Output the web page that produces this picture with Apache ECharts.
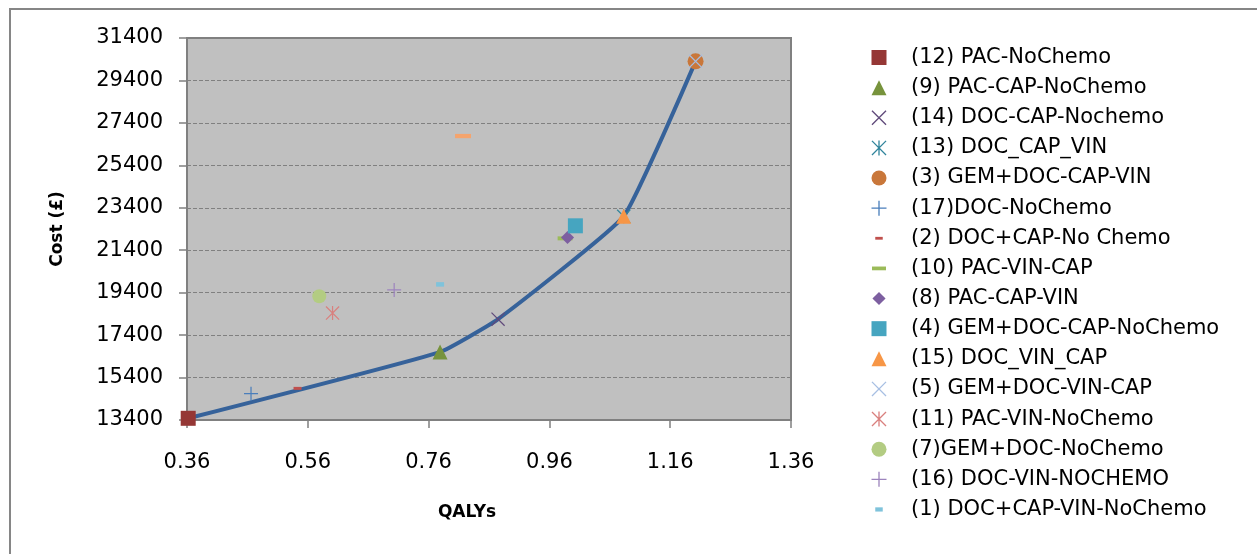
<!DOCTYPE html>
<html><head><meta charset="utf-8">
<script src="https://cdn.jsdelivr.net/npm/echarts@6/dist/echarts.min.js"></script>
<style>html,body{margin:0;padding:0;background:#fff}#c{width:1257px;height:554px}</style>
</head><body><div id="c"></div>
<script>
// ---- data ----
const strategyNames = [
  '(12) PAC-NoChemo', '(9) PAC-CAP-NoChemo', '(14) DOC-CAP-Nochemo', '(13) DOC_CAP_VIN',
  '(3) GEM+DOC-CAP-VIN', '(17)DOC-NoChemo', '(2) DOC+CAP-No Chemo', '(10) PAC-VIN-CAP',
  '(8) PAC-CAP-VIN', '(4) GEM+DOC-CAP-NoChemo', '(15) DOC_VIN_CAP', '(5) GEM+DOC-VIN-CAP',
  '(11) PAC-VIN-NoChemo', '(7)GEM+DOC-NoChemo', '(16) DOC-VIN-NOCHEMO', '(1) DOC+CAP-VIN-NoChemo',
  '(6)'
];
const qalys = [0.362, 0.779, 0.875, 1.083, 1.202, 0.466, 0.543, 0.986, 0.990, 1.003, 1.083, 1.202, 0.601, 0.579, 0.703, 0.779, 0.817];
const costs = [13480, 16600, 18150, 23000, 30300, 14640, 14890, 21960, 22000, 22550, 23000, 30300, 18440, 19230, 19530, 19790, 26780];
const legendCount = 16; // the last point (6) has no legend entry
const frontierQalys = [0.362, 0.779, 0.875, 1.083, 1.202];
const frontierCosts = [13480, 16600, 18150, 23000, 30300];
const xTicks = { min: 0.36, max: 1.36, step: 0.2 };
const yTicks = { min: 13400, max: 31400, step: 2000 };

// ---- styles ----
const P_X = 'path://M0,1L1,0L16,15L15,16ZM15,0L16,1L1,16L0,15Z';
const P_AST = 'path://M0,1L1,0L16,15L15,16ZM15,0L16,1L1,16L0,15ZM7.3,0H8.7V16H7.3Z';
const P_PLUS = 'path://M7.3,0H8.7V7.3H16V8.7H8.7V16H7.3V8.7H0V7.3H7.3Z';
const P_DASH_S = 'path://M0,0M16,16M4,6.5H12V9.5H4Z';
const P_DASH_S2 = 'path://M0,0M16,16M4,5.75H12V10.25H4Z';
const P_DASH_L = 'path://M0,0M16,16M0.5,6H15.5V10H0.5Z';
const P_DIAM = 'path://M0,0M16,16M8,1L15,8L8,15L1,8Z';
const colors = ['#953735', '#77933C', '#604A7B', '#31859C', '#C9773A', '#4A7EBB', '#C0504D', '#9BBB59',
  '#7D5FA0', '#46A5C0', '#F79646', '#A7BFE3', '#D9807E', '#B3CC82', '#9D84BD', '#7FC3DB', '#F5A46D'];
const symbols = ['rect', 'triangle', P_X, P_AST, 'circle', P_PLUS, P_DASH_S, P_DASH_L,
  P_DIAM, 'rect', 'triangle', P_X, P_AST, 'circle', P_PLUS, P_DASH_S2, P_DASH_L];
const sizes = [15, 15, 14, 14, 16, 14, 16, 16, 15, 15, 15, 14, 14, 14, 14, 16, 17];

const FONT = 'DejaVu Sans';
const series = [{
  name: 'frontier', type: 'line', smooth: 0.12, showSymbol: false, z: 1,
  lineStyle: { color: '#36629A', width: 4 },
  data: frontierQalys.map((q, i) => [q, frontierCosts[i]])
}];
strategyNames.forEach((n, i) => {
  series.push({
    name: n, type: 'scatter', z: 2 + i,
    symbol: symbols[i], symbolSize: sizes[i],
    itemStyle: { color: colors[i], opacity: 1 },
    data: [[qalys[i], costs[i]]]
  });
});

const chart = echarts.init(document.getElementById('c'), null, { renderer: 'canvas' });
chart.setOption({
  animation: false,
  backgroundColor: '#fff',
  textStyle: { fontFamily: FONT },
  grid: { left: 187, top: 38, width: 604, height: 382, show: true, backgroundColor: '#C0C0C0', borderColor: '#808080', borderWidth: 2 },
  xAxis: {
    type: 'value', min: xTicks.min, max: xTicks.max, interval: xTicks.step,
    axisLine: { show: true, lineStyle: { color: '#808080', width: 2 } },
    axisTick: { show: true, length: 8, lineStyle: { color: '#808080', width: 1.5 } },
    axisLabel: { margin: 32, color: '#000', fontSize: 21, lineHeight: 21, fontFamily: FONT, formatter: v => v.toFixed(2) },
    splitLine: { show: false }
  },
  yAxis: {
    type: 'value', min: yTicks.min, max: yTicks.max, interval: yTicks.step,
    axisLine: { show: true, lineStyle: { color: '#808080', width: 2 } },
    axisTick: { show: true, length: 8, lineStyle: { color: '#808080', width: 1.5 } },
    axisLabel: { margin: 24, color: '#000', fontSize: 21, fontFamily: FONT, formatter: v => String(Math.round(v)) },
    splitLine: { show: true, lineStyle: { color: '#808080', width: 1, type: [4, 2] } }
  },
  legend: {
    orient: 'vertical', left: 871.5, top: 47, padding: 0,
    itemWidth: 15, itemHeight: 15, itemGap: 9.13,
    textStyle: { fontFamily: FONT, fontSize: 21, lineHeight: 21, color: '#000', padding: [0, 0, 0, 19.5] },
    data: strategyNames.slice(0, legendCount),
    selectedMode: false
  },
  graphic: [
    { type: 'rect', silent: true, shape: { x: 10, y: 9, width: 1400, height: 700 }, style: { fill: 'none', stroke: '#868686', lineWidth: 2 } },
    { type: 'text', x: 467, y: 513, style: { text: 'QALYs', font: 'bold 17px "DejaVu Sans"', fill: '#000', textAlign: 'center', textVerticalAlign: 'middle' } },
    { type: 'text', x: 58, y: 229, rotation: Math.PI / 2, style: { text: 'Cost (£)', font: 'bold 17px "DejaVu Sans"', fill: '#000', textAlign: 'center', textVerticalAlign: 'middle' } }
  ],
  series: series
});
</script></body></html>
